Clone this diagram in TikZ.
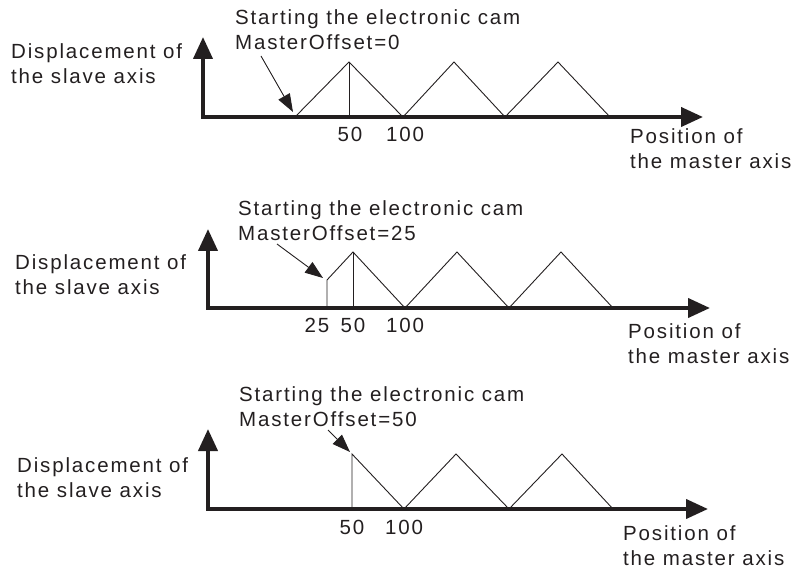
\documentclass[tikz,border=0pt]{standalone}
\usepackage{fontspec}
\newfontfamily\camfont{Liberation Sans}[LetterSpace=9]
\usetikzlibrary{arrows.meta}
\definecolor{inkgray}{HTML}{231F20}

\begin{document}
\begin{tikzpicture}[
x=1pt,y=-1pt,
txt/.style={inner sep=0pt,align=left,anchor=base west,text=inkgray,
font=\camfont\fontsize{20.5pt}{25pt}\selectfont},
tick/.style={inner sep=0pt,anchor=base,text=inkgray,
font=\camfont\fontsize{20.5pt}{25pt}\selectfont},
axis/.style={{Triangle[length=22pt,width=19pt]}-{Triangle[length=22pt,width=19pt]},
line width=4pt,draw=inkgray,line join=miter},
cam/.style={line width=0.9pt,draw=inkgray,line join=miter},
pointer/.style={-{Triangle[length=18pt,width=13pt]},line width=0.9pt,draw=inkgray}
]
\useasboundingbox (0,0) rectangle (796,572);

% panel 1: MasterOffset=0
\node[txt] (disp1) at (11,84) {Displacement of\\the slave axis};
\node[txt] (start1) at (235,50) {Starting the electronic cam\\MasterOffset=0};
\node[txt] (pos1) at (630,169) {Position of\\the master axis};
\node[tick] (t1a) at (350,142) {50};
\node[tick] (t1b) at (405,142) {100};
\coordinate (ytip1) at (203,37);
\coordinate (xtip1) at (703,117);
\coordinate (tail1) at (261,56);
\coordinate (cs1) at (293,112);
\draw[axis] (ytip1) |- (xtip1);
\draw[cam] (295,117) -- (349,62) -- (403,117) -- (454,62) -- (505,117)
  -- (558,62) -- (610,117);
\draw[cam] (349,62) -- (349,117);
\draw[pointer] (tail1) -- (cs1);

% panel 2: MasterOffset=25
\node[txt] (disp2) at (15,295) {Displacement of\\the slave axis};
\node[txt] (start2) at (238,241) {Starting the electronic cam\\MasterOffset=25};
\node[txt] (pos2) at (628,363) {Position of\\the master axis};
\node[tick] (t2a) at (317,333) {25};
\node[tick] (t2b) at (353,333) {50};
\node[tick] (t2c) at (405,333) {100};
\coordinate (ytip2) at (208,229);
\coordinate (xtip2) at (710,308);
\coordinate (tail2) at (277,244);
\coordinate (cs2) at (323,278);
\draw[axis] (ytip2) |- (xtip2);
\draw[cam] (327,308) -- (327,280) -- (353,252) -- (405,308) -- (457,252)
  -- (509,308) -- (561,252) -- (613,308);
\draw[cam] (353,252) -- (353,308);
\draw[pointer] (tail2) -- (cs2);

% panel 3: MasterOffset=50
\node[txt] (disp3) at (17,497) {Displacement of\\the slave axis};
\node[txt] (start3) at (239,426) {Starting the electronic cam\\MasterOffset=50};
\node[txt] (pos3) at (623,565) {Position of\\the master axis};
\node[tick] (t3a) at (352,534) {50};
\node[tick] (t3b) at (404,534) {100};
\coordinate (ytip3) at (208,429);
\coordinate (xtip3) at (708,509);
\coordinate (tail3) at (328,430);
\coordinate (cs3) at (350,452);
\draw[axis] (ytip3) |- (xtip3);
\draw[cam] (352,509) -- (352,454) -- (404,509) -- (456,454) -- (509,509)
  -- (562,454) -- (613,509);
\draw[pointer] (tail3) -- (cs3);
\end{tikzpicture}
\end{document}
